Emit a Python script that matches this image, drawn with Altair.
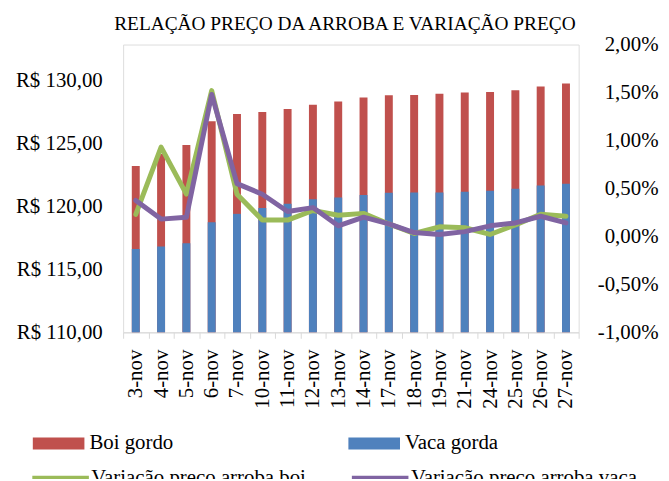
import altair as alt
import pandas as pd

dates = ["3-nov", "4-nov", "5-nov", "6-nov", "7-nov", "10-nov", "11-nov", "12-nov", "13-nov",
         "14-nov", "17-nov", "18-nov", "19-nov", "21-nov", "24-nov", "25-nov", "26-nov", "27-nov"]
boi = [123.20, 124.15, 124.86, 126.75, 127.32, 127.48, 127.72, 128.06, 128.32,
       128.64, 128.80, 128.82, 128.92, 129.03, 129.06, 129.21, 129.50, 129.74]
vaca = [116.61, 116.80, 117.06, 118.74, 119.40, 119.87, 120.20, 120.55, 120.69,
        120.89, 121.08, 121.10, 121.10, 121.16, 121.24, 121.39, 121.65, 121.79]
var_boi = [0.23, 0.93, 0.44, 1.52, 0.44, 0.17, 0.17, 0.27, 0.22,
           0.24, 0.13, 0.03, 0.10, 0.09, 0.02, 0.12, 0.23, 0.21]
var_vaca = [0.375, 0.18, 0.20, 1.48, 0.55, 0.44, 0.26, 0.30, 0.11,
            0.20, 0.13, 0.04, 0.02, 0.05, 0.11, 0.14, 0.21, 0.14]

bar_names = ["Boi gordo", "Vaca gorda"]
bar_colors = ["#C0504D", "#4F81BD"]
line_names = ["Variação preço arroba boi", "Variação preço arroba vaca"]
line_colors = ["#9BBB59", "#8064A2"]
left_ticks = [110, 115, 120, 125, 130]
right_ticks = [-1.0, -0.5, 0.0, 0.5, 1.0, 1.5, 2.0]

n = len(dates)
bars_df = pd.DataFrame({
    "data": dates * 2,
    "serie": [bar_names[0]] * n + [bar_names[1]] * n,
    "valor": boi + vaca,
})
boi_df = pd.DataFrame({"data": dates, "serie": line_names[0], "var": var_boi})
vaca_df = pd.DataFrame({"data": dates, "serie": line_names[1], "var": var_vaca})

FONT = "Liberation Serif"

x_enc = alt.X(
    "data:N", sort=dates,
    scale=alt.Scale(paddingInner=0, paddingOuter=0),
    axis=alt.Axis(title=None, labelAngle=-90, labelFontSize=21, labelFont=FONT,
                  labelColor="black", tickBand="extent", domainColor="#d9d9d9",
                  tickColor="#d9d9d9", tickSize=6, labelPadding=11, grid=False),
)

bars = alt.Chart(bars_df).mark_bar(size=8).encode(
    x=x_enc,
    y=alt.Y("valor:Q", stack=None,
            scale=alt.Scale(domain=[110, 110 + 290 / 12.7], nice=False, zero=False),
            axis=alt.Axis(title=None, values=left_ticks,
                          labelExpr="'R$ ' + replace(format(datum.value, '.2f'), '.', ',')",
                          domain=False, ticks=False, grid=False, labelPadding=21,
                          labelFontSize=21, labelFont=FONT, labelColor="black")),
    y2=alt.datum(110),
    fill=alt.Fill("serie:N", scale=alt.Scale(domain=bar_names, range=bar_colors),
                  legend=alt.Legend(title=None, orient="none", legendX=-91, legendY=376,
                                    direction="horizontal",
                                    symbolType="M-1,-0.23L1,-0.23L1,0.23L-1,0.23Z",
                                    symbolSize=2704, symbolStrokeWidth=0,
                                    labelFontSize=21, labelFont=FONT, labelColor="black",
                                    labelOffset=5, columnPadding=176, labelLimit=300)),
)

right_axis = alt.Axis(title=None, orient="right", values=right_ticks,
                      labelExpr="replace(replace(format(datum.value, '.2f'), '.', ','), '\u2212', '-') + '%'",
                      domain=False, ticks=False, grid=False, labelPadding=80,
                      labelAlign="right",
                      labelFontSize=21, labelFont=FONT, labelColor="black")
right_scale = alt.Scale(domain=[-1, 2], nice=False, zero=False)
stroke_scale = alt.Scale(domain=line_names, range=line_colors)
stroke_legend = alt.Legend(title=None, orient="none", legendX=-94, legendY=406,
                           direction="horizontal", symbolType="stroke",
                           symbolSize=3249, symbolStrokeWidth=5,
                           labelFontSize=21, labelFont=FONT, labelColor="black",
                           labelOffset=0, columnPadding=35, labelLimit=300)


def line_layer(df):
    return alt.Chart(df).mark_line(strokeWidth=5, strokeJoin="round", strokeCap="round").encode(
        x=alt.X("data:N", sort=dates),
        y=alt.Y("var:Q", scale=right_scale, axis=right_axis),
        stroke=alt.Stroke("serie:N", scale=stroke_scale, legend=stroke_legend),
    )


chart = alt.layer(bars, alt.layer(line_layer(boi_df), line_layer(vaca_df))).resolve_scale(
    y="independent"
).properties(
    width=459, height=290,
    autosize=alt.AutoSizeParams(type="none"),
    padding={"left": 116, "top": 35, "right": 83, "bottom": 146},
    title=alt.TitleParams("RELAÇÃO PREÇO DA ARROBA E VARIAÇÃO PREÇO", font=FONT,
                          fontSize=19.5, fontWeight="normal", color="black",
                          anchor="middle", dx=-6, offset=-1),
).configure_view(stroke=None).configure(background="white")

chart.save("out.html", embed_options={"renderer": "svg", "actions": False})
